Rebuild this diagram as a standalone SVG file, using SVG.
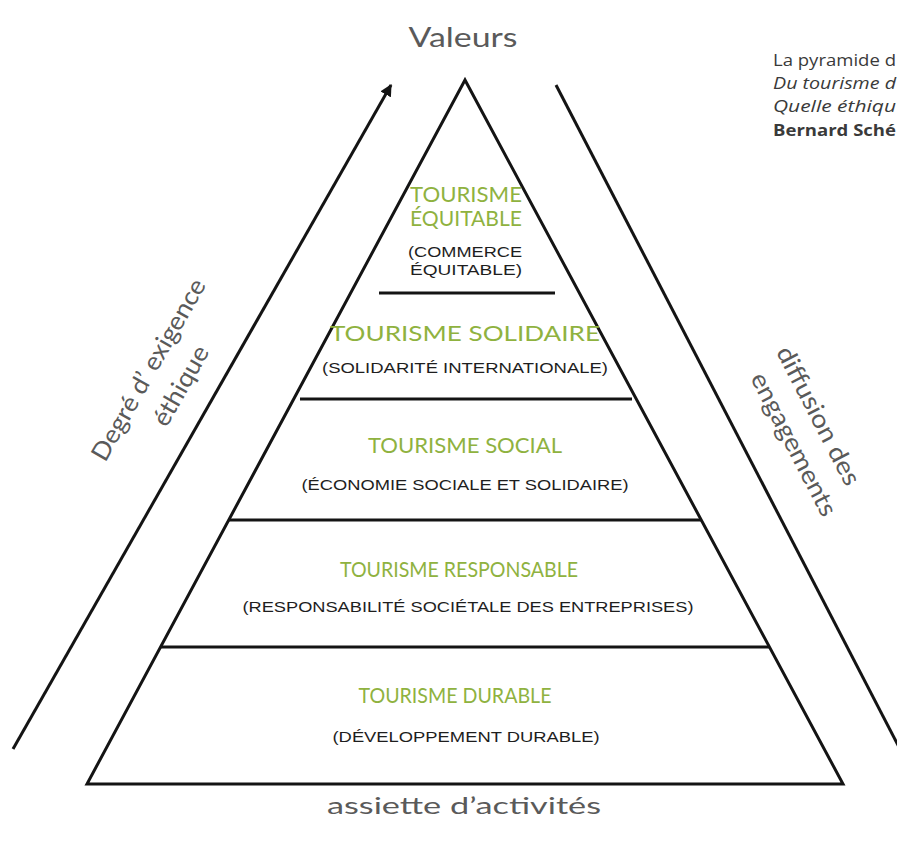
<svg xmlns="http://www.w3.org/2000/svg" width="897" height="843" viewBox="0 0 897 843">
<defs>
<style>
.ln{stroke:#141414;stroke-width:3;fill:none;stroke-linecap:butt}
.tt{font-family:Lato,"Liberation Sans",sans-serif;font-size:21.5px;fill:#8fb23f;text-anchor:middle}
.st{font-family:"Liberation Sans",Arial,sans-serif;font-size:14.5px;fill:#1e1e1e;text-anchor:middle}
.lb{font-family:Lato,"Open Sans",sans-serif;font-weight:400;fill:#5a5a5a;text-anchor:middle}
.ref{font-family:"Open Sans",Lato,sans-serif;font-size:15.5px;fill:#3a3a3a}
</style>
<marker id="ah" viewBox="0 0 10 10" refX="9" refY="5" markerWidth="4" markerHeight="4" orient="auto" markerUnits="strokeWidth">
<path d="M0,0 L10,5 L0,10 z" fill="#141414"/>
</marker>
</defs>
<rect width="897" height="843" fill="#ffffff"/>

<g id="connectors">
<line class="ln" x1="13" y1="749" x2="391" y2="85" marker-end="url(#ah)"/>
<line class="ln" x1="556" y1="85" x2="900" y2="749"/>
</g>

<g id="pyramid">
<polygon class="ln" points="465,80 87,784 843,784" stroke-linejoin="miter"/>
<line class="ln" x1="379" y1="293" x2="555" y2="293"/>
<line class="ln" x1="300" y1="399" x2="632" y2="399"/>
<line class="ln" x1="229" y1="520" x2="701" y2="520"/>
<line class="ln" x1="160" y1="647" x2="769" y2="647"/>
</g>

<g id="tier-equitable">
<text class="tt" x="466" y="202" font-size="19.5" textLength="112" lengthAdjust="spacingAndGlyphs">TOURISME</text>
<text class="tt" x="466" y="226" font-size="19.5" textLength="112" lengthAdjust="spacingAndGlyphs">ÉQUITABLE</text>
<text class="st" x="465" y="257" textLength="114" lengthAdjust="spacingAndGlyphs">(COMMERCE</text>
<text class="st" x="466" y="275" textLength="112" lengthAdjust="spacingAndGlyphs">ÉQUITABLE)</text>
</g>

<g id="tier-solidaire">
<text class="tt" x="465" y="341" textLength="270" lengthAdjust="spacingAndGlyphs">TOURISME SOLIDAIRE</text>
<text class="st" x="465" y="373" textLength="286" lengthAdjust="spacingAndGlyphs">(SOLIDARITÉ INTERNATIONALE)</text>
</g>

<g id="tier-social">
<text class="tt" x="465" y="453" textLength="194" lengthAdjust="spacingAndGlyphs">TOURISME SOCIAL</text>
<text class="st" x="465" y="490" textLength="327" lengthAdjust="spacingAndGlyphs">(ÉCONOMIE SOCIALE ET SOLIDAIRE)</text>
</g>

<g id="tier-responsable">
<text class="tt" x="459" y="577" textLength="238" lengthAdjust="spacingAndGlyphs">TOURISME RESPONSABLE</text>
<text class="st" x="468" y="612" textLength="451" lengthAdjust="spacingAndGlyphs">(RESPONSABILITÉ SOCIÉTALE DES ENTREPRISES)</text>
</g>

<g id="tier-durable">
<text class="tt" x="455" y="703" textLength="193" lengthAdjust="spacingAndGlyphs">TOURISME DURABLE</text>
<text class="st" x="466" y="742" textLength="267" lengthAdjust="spacingAndGlyphs">(DÉVELOPPEMENT DURABLE)</text>
</g>

<g id="label-valeurs">
<text class="lb" x="463" y="47" font-size="27" textLength="109" lengthAdjust="spacingAndGlyphs">Valeurs</text>
</g>

<g id="label-assiette">
<text class="lb" x="464" y="814" font-size="23" textLength="274" lengthAdjust="spacingAndGlyphs">assiette d’activités</text>
</g>

<g id="label-degre" transform="translate(149,370) rotate(-60.4)">
<text class="lb" x="0" y="8" font-size="25" textLength="205" lengthAdjust="spacingAndGlyphs">Degré d’ exigence</text>
<text class="lb" x="2" y="44" font-size="25" textLength="88" lengthAdjust="spacingAndGlyphs">éthique</text>
</g>

<g id="label-diffusion" transform="translate(818,416) rotate(62.6)">
<text class="lb" x="0" y="8" font-size="25" textLength="153" lengthAdjust="spacingAndGlyphs">diffusion des</text>
<text class="lb" x="14" y="43" font-size="25" textLength="158" lengthAdjust="spacingAndGlyphs">engagements</text>
</g>

<g id="reference">
<text class="ref" x="773" y="66" textLength="123" lengthAdjust="spacingAndGlyphs">La pyramide d</text>
<text class="ref" x="773" y="89" font-style="italic" textLength="123" lengthAdjust="spacingAndGlyphs">Du tourisme d</text>
<text class="ref" x="773" y="112" font-style="italic" textLength="123" lengthAdjust="spacingAndGlyphs">Quelle éthiqu</text>
<text class="ref" x="773" y="136" font-weight="bold" fill="#222" textLength="123" lengthAdjust="spacingAndGlyphs">Bernard Sché</text>
</g>
</svg>
